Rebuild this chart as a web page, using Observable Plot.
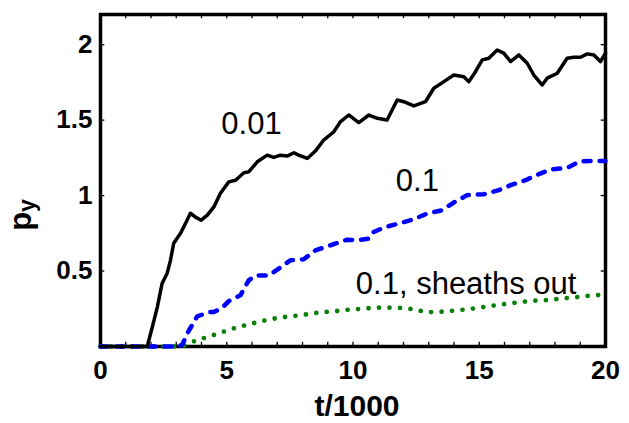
<!DOCTYPE html>
<html>
<head>
<meta charset="utf-8">
<script src="https://cdn.jsdelivr.net/npm/d3@7"></script>
<script src="https://cdn.jsdelivr.net/npm/@observablehq/plot@0.6"></script>
<style>
  html, body { margin: 0; padding: 0; background: #fff; }
  #chart { width: 629px; height: 423px; }
</style>
</head>
<body>
<div id="chart"></div>
<script>
// ---- data (t/1000, p_y) ----
const seriesNames = ["0.01", "0.1", "0.1, sheaths out"];

const black001 = [
  [0,0],[1.85,0],[2.05,0.128],[2.25,0.261],[2.44,0.418],[2.64,0.485],[2.77,0.571],[2.90,0.684],
  [3.17,0.750],[3.37,0.817],[3.56,0.883],[3.76,0.857],[3.99,0.837],[4.23,0.870],[4.49,0.925],[4.75,1.016],
  [5.08,1.091],[5.35,1.102],[5.68,1.151],[5.87,1.157],[6.21,1.224],[6.60,1.268],[6.86,1.253],[7.13,1.268],
  [7.39,1.262],[7.66,1.284],[7.85,1.268],[8.19,1.246],[8.51,1.295],[8.84,1.368],[9.24,1.423],[9.50,1.489],
  [9.83,1.534],[10.23,1.483],[10.63,1.534],[10.96,1.512],[11.35,1.501],[11.75,1.633],[12.01,1.622],[12.41,1.594],
  [12.87,1.622],[13.20,1.711],[13.60,1.755],[13.99,1.799],[14.39,1.788],[14.59,1.755],[14.85,1.821],[15.12,1.899],
  [15.38,1.910],[15.71,1.965],[15.97,1.944],[16.24,1.888],[16.57,1.932],[16.90,1.877],[17.16,1.799],[17.49,1.733],
  [17.69,1.778],[18.09,1.811],[18.48,1.910],[18.74,1.917],[19.01,1.917],[19.28,1.939],[19.54,1.932],[19.80,1.888],
  [20.0,1.944]
];

const blue01 = [
  [0,0],[3.0,0],[3.23,0.01],[3.50,0.106],[3.83,0.199],[4.29,0.228],[4.49,0.228],[4.82,0.257],
  [5.08,0.301],[5.54,0.339],[5.87,0.438],[6.14,0.471],[6.67,0.471],[7.06,0.516],[7.52,0.571],[8.05,0.578],
  [8.51,0.637],[8.98,0.664],[9.11,0.671],[9.77,0.708],[10.17,0.704],[10.63,0.715],[10.82,0.759],[11.22,0.788],
  [11.81,0.815],[12.41,0.843],[12.94,0.881],[13.53,0.903],[13.99,0.954],[14.52,1.003],[15.18,1.009],[15.77,1.036],
  [16.24,1.069],[16.83,1.102],[17.36,1.142],[17.82,1.173],[18.48,1.184],[19.01,1.228],[19.67,1.230],[20,1.230]
];

const green01out = [
  [0,0],[3.2,0],[3.43,0.013],[3.83,0.044],[4.23,0.062],[4.62,0.084],[5.02,0.106],[5.41,0.128],
  [5.81,0.144],[6.21,0.161],[6.67,0.179],[7.06,0.190],[7.46,0.199],[7.92,0.206],[8.32,0.217],[8.78,0.228],
  [9.11,0.230],[9.57,0.239],[9.97,0.246],[10.40,0.250],[10.82,0.257],[11.22,0.257],[11.68,0.257],[12.08,0.254],
  [12.48,0.244],[12.87,0.228],[13.33,0.228],[13.73,0.234],[14.13,0.239],[14.52,0.246],[14.98,0.257],[15.42,0.268],
  [15.84,0.277],[16.24,0.286],[16.63,0.294],[17.10,0.303],[17.49,0.305],[17.95,0.312],[18.35,0.319],[18.74,0.325],
  [19.21,0.334],[19.74,0.341],[20,0.345]
];

// label anchor positions (data units)
const labelT = [5.98, 12.55, 14.48];
const labelP = [1.474, 1.096, 0.412];

const xTicks = [0, 5, 10, 15, 20];
const xMinorTicks = d3.range(0, 21, 1);
const yTicks = [0.5, 1, 1.5, 2];
const xDomain = [0, 20];
const yDomain = [0, 2.2];

// ---- build ----
const toRows = (arr) => arr.map(([t, p]) => ({t, p}));
const labels = seriesNames.map((name, i) => ({name, t: labelT[i], p: labelP[i]}));

const font = "'Liberation Sans', Arial, sans-serif";
const tickLenY = 0.028;   // in y data units
const tickLenX = 0.17;    // in x data units
const fmt = d => String(d);

const chart = Plot.plot({
  width: 629,
  height: 423,
  marginLeft: 100,
  marginRight: 24,
  marginTop: 14,
  marginBottom: 77,
  style: {fontFamily: font, color: "black", background: "white", overflow: "visible"},
  x: {domain: xDomain},
  y: {domain: yDomain},
  marks: [
    Plot.axisX({ticks: xTicks, tickFormat: fmt, tickSize: 0, tickPadding: 14, fontSize: 26, fontWeight: "bold", label: null}),
    Plot.axisY({ticks: yTicks, tickFormat: fmt, tickSize: 0, tickPadding: 8, fontSize: 26, fontWeight: "bold", label: null}),
    // inward ticks
    Plot.ruleX(xMinorTicks, {x: d => d, y1: yDomain[0], y2: yDomain[0] + tickLenY, stroke: "black", strokeWidth: 1.3}),
    Plot.ruleX(xMinorTicks, {x: d => d, y1: yDomain[1] - tickLenY, y2: yDomain[1], stroke: "black", strokeWidth: 1.3}),
    Plot.ruleY(yTicks, {y: d => d, x1: xDomain[0], x2: xDomain[0] + tickLenX, stroke: "black", strokeWidth: 1.3}),
    Plot.ruleY(yTicks, {y: d => d, x1: xDomain[1] - tickLenX, x2: xDomain[1], stroke: "black", strokeWidth: 1.3}),
    Plot.frame({stroke: "black", strokeWidth: 3.5}),
    Plot.line(toRows(green01out), {x: "t", y: "p", stroke: "#0a800a", strokeWidth: 4.8,
      strokeDasharray: "0,10.5", strokeLinecap: "round"}),
    Plot.line(toRows(blue01), {x: "t", y: "p", stroke: "#0000ff", strokeWidth: 4.5,
      strokeDasharray: "7,9", strokeLinecap: "round", strokeLinejoin: "round"}),
    Plot.line(toRows(black001), {x: "t", y: "p", stroke: "black", strokeWidth: 3.5, strokeLinejoin: "round"}),
    Plot.text(labels, {x: "t", y: "p", text: "name", fontSize: 31, fill: "black", textAnchor: "middle"})
  ]
});

const svg = d3.select(chart);
// x-axis title
svg.append("text")
  .attr("x", 357).attr("y", 416)
  .attr("text-anchor", "middle")
  .attr("font-family", font).attr("font-weight", "bold").attr("font-size", 30)
  .attr("fill", "black")
  .text("t/1000");
// y-axis title p_y
const yl = svg.append("text")
  .attr("transform", "translate(31,215) rotate(-90)")
  .attr("font-family", font).attr("font-weight", "bold").attr("font-size", 31)
  .attr("fill", "black");
yl.append("tspan").text("p");
yl.append("tspan").attr("font-size", 23).attr("dy", 4).text("y");

document.getElementById("chart").appendChild(chart);
</script>
</body>
</html>
